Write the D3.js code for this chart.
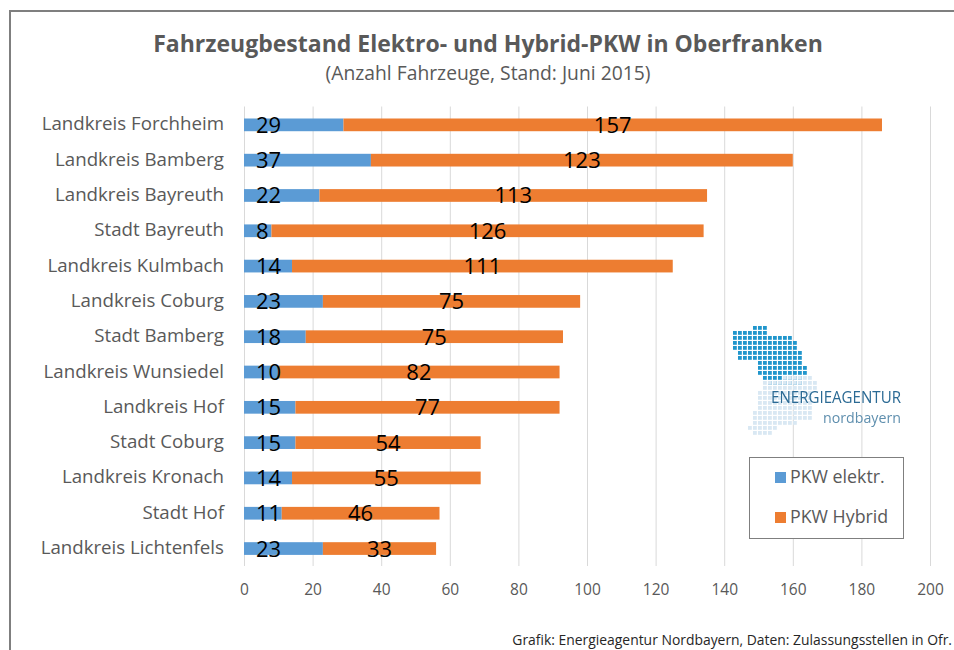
<!DOCTYPE html>
<html lang="de">
<head>
	<title>Fahrzeugbestand Elektro- und Hybrid-PKW in Oberfranken</title>
    <script src="https://d3js.org/d3.v7.min.js" charset="utf-8"></script>
    <style>
        body { margin: 0; background: #fff; }
        svg { display: block; font-family: "Open Sans", sans-serif; }
    </style>
</head>
<body>
	<script>
        var width = 954;
        var height = 650;

        // Values
        var regions = ["Landkreis Forchheim", "Landkreis Bamberg", "Landkreis Bayreuth", "Stadt Bayreuth",
            "Landkreis Kulmbach", "Landkreis Coburg", "Stadt Bamberg", "Landkreis Wunsiedel", "Landkreis Hof",
            "Stadt Coburg", "Landkreis Kronach", "Stadt Hof", "Landkreis Lichtenfels"];
        var elektro = [29, 37, 22, 8, 14, 23, 18, 10, 15, 15, 14, 11, 23];
        var hybrid = [157, 123, 113, 126, 111, 75, 75, 82, 77, 54, 55, 46, 33];
        var xTicks = [0, 20, 40, 60, 80, 100, 120, 140, 160, 180, 200];
        var seriesNames = ["PKW elektr.", "PKW Hybrid"];
        var seriesColors = ["#5b9bd5", "#ed7d31"];

        var svg = d3.select( "body" )
            .append( "svg" )
            .attr( "width", width )
            .attr( "height", height );

        // Chart frame, open to the right and at the bottom
        svg.append( "path" )
            .attr( "d", "M10,650V11H954" )
            .attr( "fill", "none" )
            .attr( "stroke", "#7f7f7f" )
            .attr( "stroke-width", 2 );

        svg.append( "text" )
            .attr( "x", 488 ).attr( "y", 52 )
            .attr( "text-anchor", "middle" )
            .attr( "font-size", 23 ).attr( "font-weight", 700 )
            .attr( "fill", "#595959" )
            .text( "Fahrzeugbestand Elektro- und Hybrid-PKW in Oberfranken" );

        svg.append( "text" )
            .attr( "x", 488 ).attr( "y", 80 )
            .attr( "text-anchor", "middle" )
            .attr( "font-size", 19.3 )
            .attr( "fill", "#595959" )
            .text( "(Anzahl Fahrzeuge, Stand: Juni 2015)" );

        var x = d3.scaleLinear().domain( [0, 200] ).range( [244, 930] );
        var y = d3.scaleBand().domain( regions ).range( [107.2, 566.2] ).paddingInner( 0.64 ).paddingOuter( 0.32 );

        // Gridlines
        svg.append( "g" ).selectAll( "line" )
            .data( xTicks )
            .enter()
            .append( "line" )
            .attr( "x1", function(d) { return x(d) + 0.5; } )
            .attr( "x2", function(d) { return x(d) + 0.5; } )
            .attr( "y1", 106.5 )
            .attr( "y2", 566 )
            .attr( "stroke", "#d9d9d9" );

        // Logo sits on top of the grid
        drawLogo();

        // Bars
        var rows = svg.append( "g" ).selectAll( "g" )
            .data( regions )
            .enter()
            .append( "g" );

        rows.append( "rect" )
            .attr( "x", x(0) )
            .attr( "y", function(d) { return y(d); } )
            .attr( "height", y.bandwidth() )
            .attr( "width", function(d, i) { return x(elektro[i]) - x(0); } )
            .attr( "fill", seriesColors[0] );

        rows.append( "rect" )
            .attr( "x", function(d, i) { return x(elektro[i]); } )
            .attr( "y", function(d) { return y(d); } )
            .attr( "height", y.bandwidth() )
            .attr( "width", function(d, i) { return x(elektro[i] + hybrid[i]) - x(elektro[i]); } )
            .attr( "fill", seriesColors[1] );

        // Category labels
        rows.append( "text" )
            .attr( "x", 224 )
            .attr( "y", function(d) { return y(d) + y.bandwidth() / 2 + 5.5; } )
            .attr( "text-anchor", "end" )
            .attr( "font-size", 18.7 )
            .attr( "fill", "#595959" )
            .text( function(d) { return d; } );

        // Value labels
        rows.append( "text" )
            .attr( "x", x(0) + 12 )
            .attr( "y", function(d) { return y(d) + y.bandwidth() / 2 + 8; } )
            .attr( "font-size", 22 )
            .attr( "fill", "#000" )
            .text( function(d, i) { return elektro[i]; } );

        rows.append( "text" )
            .attr( "x", function(d, i) { return x(elektro[i] + hybrid[i] / 2); } )
            .attr( "y", function(d) { return y(d) + y.bandwidth() / 2 + 8; } )
            .attr( "text-anchor", "middle" )
            .attr( "font-size", 22 )
            .attr( "fill", "#000" )
            .text( function(d, i) { return hybrid[i]; } );

        // X axis
        var xAxis = svg.append( "g" )
            .attr( "transform", "translate(0,566)" )
            .call( d3.axisBottom( x ).tickValues( xTicks ).tickSize( 0 ).tickPadding( 18 ) );
        xAxis.select( ".domain" ).remove();
        xAxis.selectAll( "text" )
            .attr( "font-family", "'Open Sans', sans-serif" )
            .attr( "font-size", 15.5 )
            .attr( "fill", "#595959" );

        // Legend
        svg.append( "rect" )
            .attr( "x", 749.5 ).attr( "y", 457.5 )
            .attr( "width", 154 ).attr( "height", 81 )
            .attr( "fill", "#fff" )
            .attr( "stroke", "#7f7f7f" );

        var legend = svg.append( "g" ).selectAll( "g" )
            .data( seriesNames )
            .enter()
            .append( "g" )
            .attr( "transform", function(d, i) { return "translate(775," + (472 + i * 40) + ")"; } );

        legend.append( "rect" )
            .attr( "width", 11 ).attr( "height", 11 )
            .attr( "fill", function(d, i) { return seriesColors[i]; } );

        legend.append( "text" )
            .attr( "x", 15 ).attr( "y", 11 )
            .attr( "font-size", 17.8 )
            .attr( "fill", "#595959" )
            .text( function(d) { return d; } );

        // Source line
        svg.append( "text" )
            .attr( "x", 952 ).attr( "y", 645 )
            .attr( "text-anchor", "end" )
            .attr( "font-size", 13.9 )
            .attr( "fill", "#262626" )
            .text( "Grafik: Energieagentur Nordbayern, Daten: Zulassungsstellen in Ofr." );

        function drawLogo() {
            // Outline of Bavaria, north part and south part, traced in page pixels
            var north = [[732,333],[745,330],[760,325],[767,329],[771,335],[777,337],[787,334],[793,340],[801,350],[803,360],[809,373],[801,383],[777,385],[763,381],[755,361],[740,360],[732,343]];
            var south = [[763,381],[809,373],[816,382],[810,419],[780,428],[763,439],[749,431],[758,400]];
            var logo = svg.append( "g" ).style( "filter", "blur(0.4px)" );
            var shapes = [[north, "#2096cc"], [south, "#d9e8f3"]];
            shapes.forEach( function(s) {
                var cells = [];
                d3.range( 733, 820, 5 ).forEach( function(cx) {
                    d3.range( 326, 442, 5 ).forEach( function(cy) {
                        if ( d3.polygonContains( s[0], [cx + 2, cy + 2] ) ) cells.push( [cx, cy] );
                    } );
                } );
                logo.selectAll( null )
                    .data( cells )
                    .enter()
                    .append( "rect" )
                    .attr( "x", function(d) { return d[0]; } )
                    .attr( "y", function(d) { return d[1]; } )
                    .attr( "width", 3.8 ).attr( "height", 3.8 )
                    .attr( "fill", s[1] );
            } );
            logo.append( "text" )
                .attr( "x", 771 ).attr( "y", 403 )
                .attr( "textLength", 130 ).attr( "lengthAdjust", "spacingAndGlyphs" )
                .attr( "font-size", 17 )
                .attr( "fill", "#2b6a94" )
                .text( "ENERGIEAGENTUR" );
            logo.append( "text" )
                .attr( "x", 823 ).attr( "y", 423 )
                .attr( "textLength", 78 ).attr( "lengthAdjust", "spacingAndGlyphs" )
                .attr( "font-size", 14 )
                .attr( "fill", "#5f8fae" )
                .text( "nordbayern" );
        }
	</script>
</body>
</html>
